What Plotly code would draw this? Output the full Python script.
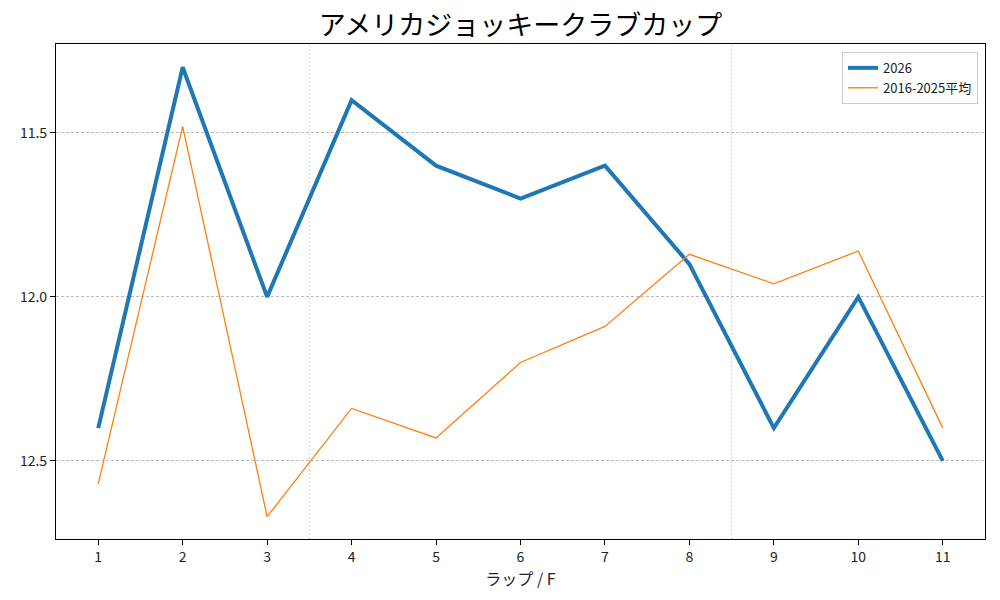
import plotly.graph_objects as go

laps = [1, 2, 3, 4, 5, 6, 7, 8, 9, 10, 11]
times_2026 = [12.4, 11.3, 12.0, 11.4, 11.6, 11.7, 11.6, 11.9, 12.4, 12.0, 12.5]
times_avg = [12.57, 11.48, 12.67, 12.34, 12.43, 12.2, 12.09, 11.87, 11.96, 11.86, 12.4]
section_marks = [3.5, 8.5]
y_ticks = [11.5, 12.0, 12.5]

FONT = "Noto Sans CJK JP"

fig = go.Figure()
fig.add_trace(go.Scatter(x=laps, y=times_2026, mode='lines', name='2026',
                         line=dict(color='#1f77b4', width=4)))
fig.add_trace(go.Scatter(x=laps, y=times_avg, mode='lines', name='2016-2025平均',
                         line=dict(color='#ff7f0e', width=1.3)))

for xv in section_marks:
    fig.add_vline(x=xv, line=dict(color='#cccccc', width=0.8, dash='2px,2px'), layer='below')

fig.update_layout(
    width=1000, height=600,
    template='plotly_white',
    font=dict(family=FONT, size=14, color='#222222'),
    title=dict(text='アメリカジョッキークラブカップ', xref='paper', x=0.5, xanchor='center',
               yref='container', y=0.97, yanchor='middle',
               font=dict(size=27, color='black')),
    margin=dict(l=48, r=23, t=36, b=69),
    plot_bgcolor='white', paper_bgcolor='white',
    legend=dict(x=0.9925, xanchor='right', y=0.984, yanchor='top',
                bgcolor='rgba(255,255,255,0.8)', bordercolor='#cccccc', borderwidth=1,
                font=dict(size=13)),
    showlegend=True,
)
fig.update_xaxes(range=[0.5, 11.5], tickmode='array', tickvals=laps,
                 ticks='outside', ticklen=5, tickcolor='black',
                 showline=True, linecolor='black', linewidth=1.2, mirror=True,
                 showgrid=False, zeroline=False,
                 title=dict(text='ラップ / F', font=dict(size=16), standoff=4))
fig.update_yaxes(range=[12.738, 11.229], tickmode='array', tickvals=y_ticks,
                 ticktext=[f'{v:.1f}' for v in y_ticks],
                 ticks='outside', ticklen=5, tickcolor='black',
                 showline=True, linecolor='black', linewidth=1.2, mirror=True,
                 showgrid=True, gridcolor='#bbbbbb', griddash='3px,2px', gridwidth=0.7,
                 zeroline=False)

fig.write_html("out.html")
